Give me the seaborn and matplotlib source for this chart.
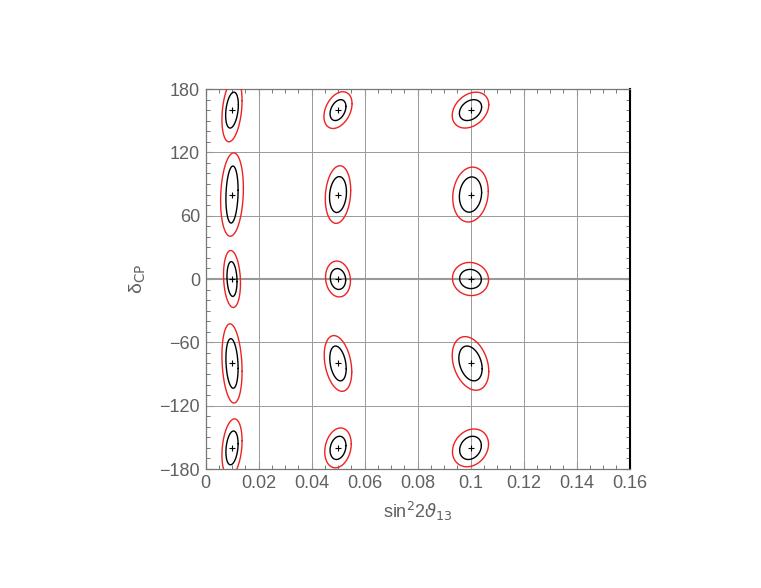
import matplotlib
matplotlib.use('Agg')

import matplotlib.pyplot as plt
import matplotlib.ticker as mticker
import seaborn as sns
import numpy as np

# centres of the simulated points
x_centers = [0.01, 0.05, 0.1]
dcp_centers = [160, 80, 0, -80, -160]

# contour extents (half widths in sin^2 2theta13, half heights in degrees), rows = x_centers
black_hw = [[0.0024, 0.0023, 0.0019, 0.0023, 0.0023],
            [0.0030, 0.0032, 0.0029, 0.0031, 0.0030],
            [0.0042, 0.0042, 0.0041, 0.0044, 0.0041]]
black_hh = [[17, 27, 16.5, 23.5, 16],
            [9.9, 17, 9.9, 16.5, 11],
            [9.9, 16.7, 9.1, 16.5, 11]]
red_hw = [[0.0038, 0.0043, 0.0032, 0.0038, 0.0038],
          [0.0053, 0.0048, 0.0047, 0.0052, 0.0050],
          [0.0069, 0.0067, 0.0068, 0.0069, 0.0068]]
red_hh = [[30, 39.5, 27, 37.5, 27.5],
          [17.4, 27.3, 17, 26.4, 18.9],
          [17, 26, 15.7, 25.4, 17.9]]
# correlation (tilt) of each contour
rho = [[0.3, 0.15, -0.15, -0.2, 0.25],
       [0.35, 0.15, -0.1, -0.3, 0.2],
       [0.3, 0.12, -0.05, -0.3, 0.2]]

x_ticks = [0, 0.02, 0.04, 0.06, 0.08, 0.1, 0.12, 0.14, 0.16]
y_ticks = [-180, -120, -60, 0, 60, 120, 180]

sns.set_theme(style="ticks")
plt.rcParams['font.family'] = ['Liberation Sans', 'DejaVu Sans']
plt.rcParams['mathtext.fontset'] = 'dejavusans'

fig = plt.figure(figsize=(7.61, 5.88), dpi=100)
ax = fig.add_axes([205.5 / 761, 1 - 469 / 588, 424 / 761, 380 / 588])

t = np.linspace(0, 2 * np.pi, 241)


def contour(cx, cy, hw, hh, r, color):
    xs = cx + hw * np.cos(t)
    ys = cy + hh * (r * np.cos(t) + np.sqrt(1 - r ** 2) * np.sin(t))
    sns.lineplot(x=xs, y=ys, sort=False, estimator=None, color=color,
                 lw=1.0, ax=ax, zorder=3)


# grid lines
for xv in x_ticks[1:-1]:
    ax.axvline(xv, color='#999999', lw=0.7, zorder=1)
for yv in y_ticks[1:-1]:
    ax.axhline(yv, color='#999999', lw=1.5 if yv == 0 else 0.7, zorder=1)

for i, cx in enumerate(x_centers):
    for j, cy in enumerate(dcp_centers):
        contour(cx, cy, red_hw[i][j], red_hh[i][j], rho[i][j], '#ee2222')
        contour(cx, cy, black_hw[i][j], black_hh[i][j], rho[i][j], 'black')

px = [cx for cx in x_centers for _ in dcp_centers]
py = [cy for _ in x_centers for cy in dcp_centers]
sns.scatterplot(x=px, y=py, marker='+', s=22, color='black', linewidth=0.8,
                ax=ax, zorder=4)

ax.set_xlim(0, 0.16)
ax.set_ylim(-180, 180)
ax.set_xticks(x_ticks)
ax.set_yticks(y_ticks)
ax.xaxis.set_major_formatter(mticker.FuncFormatter(lambda v, p: f'{v:g}'))
ax.xaxis.set_minor_locator(mticker.MultipleLocator(0.005))
ax.yaxis.set_minor_locator(mticker.MultipleLocator(10))
ax.tick_params(which='both', direction='in', top=True, right=True,
               colors='#777777', labelcolor='#606060', labelsize=13)
ax.tick_params(which='major', length=5, width=0.8, pad=4)
ax.tick_params(which='minor', length=3, width=0.7)

for side in ['left', 'top', 'bottom']:
    ax.spines[side].set_color('#777777')
    ax.spines[side].set_linewidth(0.9)
ax.spines['right'].set_color('black')
ax.spines['right'].set_linewidth(1.5)

ax.set_xlabel('sin$^{2}$2$\\vartheta_{13}$', fontsize=13, color='#606060', labelpad=6)
ax.set_ylabel('δ$_{\\rm CP}$', fontsize=14, color='#606060', labelpad=8)

fig.savefig('out.png', dpi=100)
plt.close(fig)
